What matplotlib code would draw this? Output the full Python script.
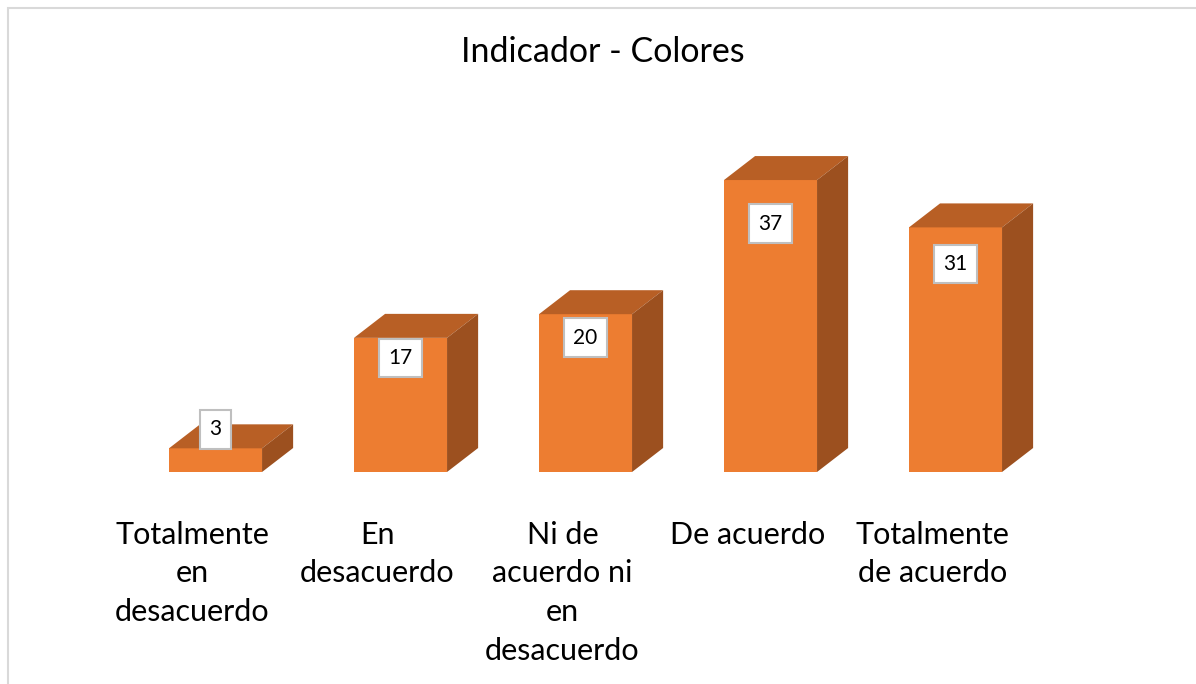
import matplotlib.pyplot as plt
from matplotlib.patches import Polygon, Rectangle

categories = ['Totalmente\nen\ndesacuerdo', 'En\ndesacuerdo', 'Ni de\nacuerdo ni\nen\ndesacuerdo',
              'De acuerdo', 'Totalmente\nde acuerdo']
values = [3, 17, 20, 37, 31]

front = '#ED7D31'
top_c = '#B85F25'
side_c = '#9C501F'

plt.rcParams['font.family'] = ['Lato', 'DejaVu Sans']

fig = plt.figure(figsize=(11.96, 6.84), dpi=100)
ax = fig.add_axes([0, 0, 1, 1])
ax.set_xlim(-1.165, 5.3)
ax.set_ylim(-26.87, 59.82)
ax.axis('off')

w = 0.503      # front face width
dx = 0.168     # depth offset in x
dy = 3.04      # depth offset in y

x = list(range(len(values)))
ax.bar(x, values, width=w, color=front, linewidth=0, zorder=2)
for xi, v in zip(x, values):
    l, r = xi - w / 2, xi + w / 2
    ax.add_patch(Polygon([(l, v), (r, v), (r + dx, v + dy), (l + dx, v + dy)],
                         closed=True, facecolor=top_c, edgecolor='none', zorder=2))
    ax.add_patch(Polygon([(r, 0), (r + dx, dy), (r + dx, v + dy), (r, v)],
                         closed=True, facecolor=side_c, edgecolor='none', zorder=2))
    ly = v * 0.85 if v > 5 else v + 2.4
    ax.text(xi, ly, str(v), ha='center', va='center', fontsize=15, zorder=4,
            bbox=dict(boxstyle='square,pad=0.45', facecolor='white', edgecolor='#BFBFBF', linewidth=1.5))
    ax.text(xi - 0.125, -6.2, categories[xi], ha='center', va='top', fontsize=22,
            linespacing=1.46, color='black')

ax.text(0.504, 0.924, 'Indicador - Colores', transform=fig.transFigure, ha='center', va='center',
        fontsize=24.5, color='black')

fig.patches.append(Rectangle((8 / 1196, -0.05), 1.2, (684 - 8) / 684 + 0.05, transform=fig.transFigure,
                             fill=False, edgecolor='#D9D9D9', linewidth=1.5))

fig.savefig('out.png', dpi=100)
